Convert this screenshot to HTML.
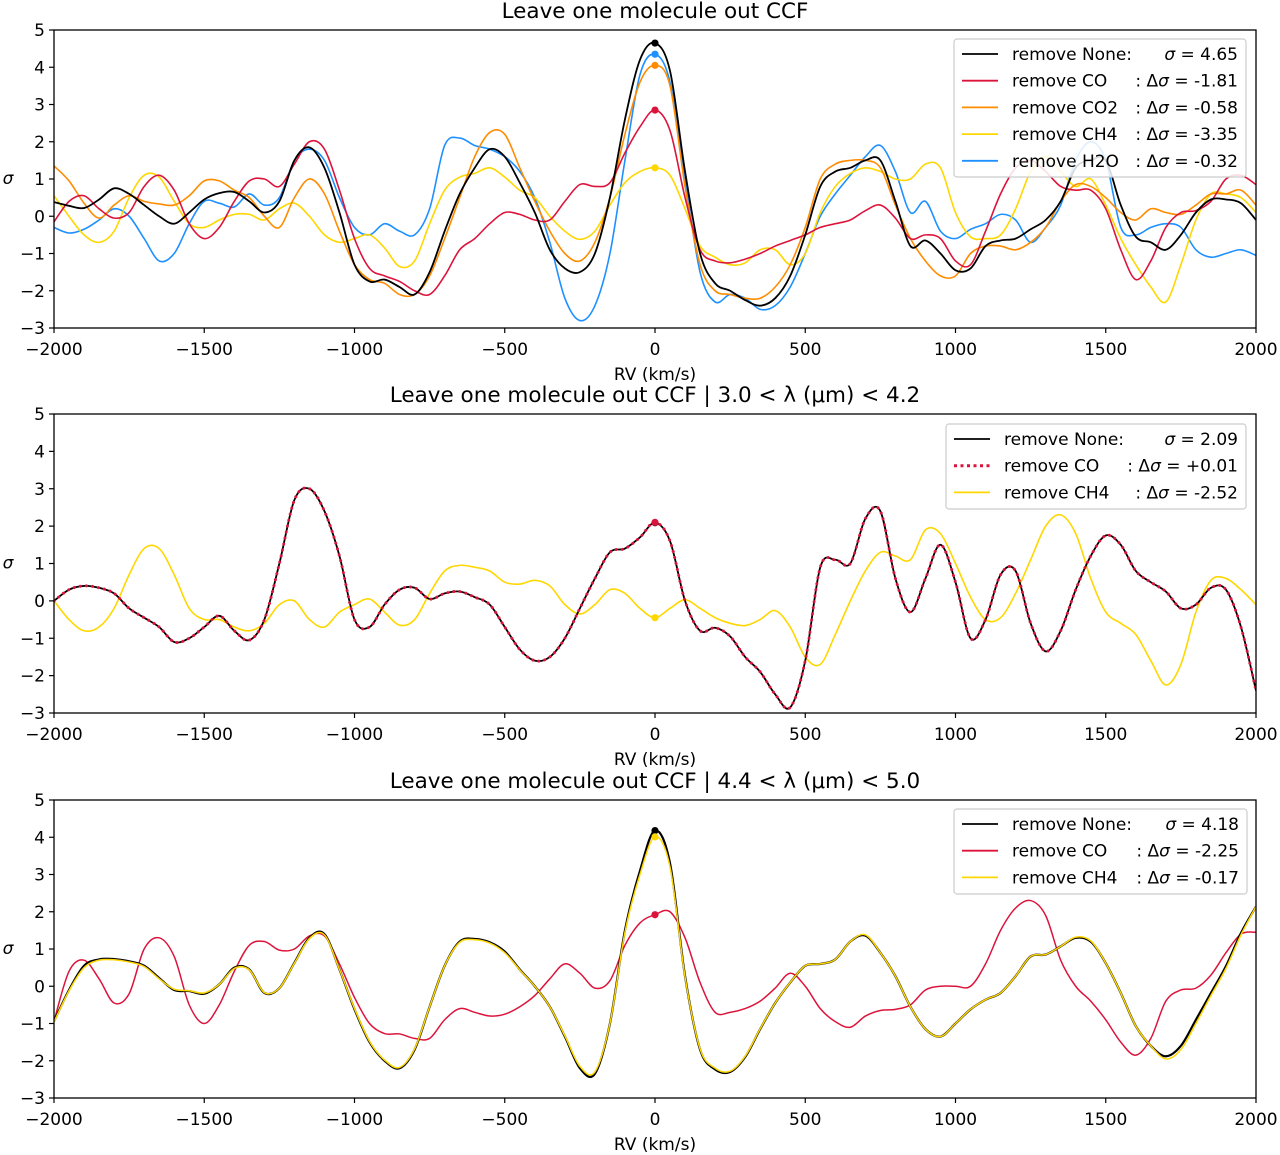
<!DOCTYPE html>
<html><head><meta charset="utf-8"><style>
html,body{margin:0;padding:0;background:#fff;}
svg{display:block;font-family:"DejaVu Sans","Liberation Sans",sans-serif;}
</style></head><body>
<svg id="chart" width="1280" height="1155" viewBox="0 0 1280 1155" xmlns="http://www.w3.org/2000/svg"></svg>
<script>
const rv = [-2000,-1950,-1900,-1850,-1800,-1750,-1700,-1650,-1600,-1550,-1500,-1450,-1400,-1350,-1300,-1250,-1200,-1150,-1100,-1050,-1000,-950,-900,-850,-800,-750,-700,-650,-600,-550,-500,-450,-400,-350,-300,-250,-200,-150,-100,-50,0,50,100,150,200,250,300,350,400,450,500,550,600,650,700,750,800,850,900,950,1000,1050,1100,1150,1200,1250,1300,1350,1400,1450,1500,1550,1600,1650,1700,1750,1800,1850,1900,1950,2000];
const xTicks = [-2000,-1500,-1000,-500,0,500,1000,1500,2000];
const yTicks = [-3,-2,-1,0,1,2,3,4,5];

// Panel 1
const p1None = [0.38,0.28,0.22,0.45,0.75,0.6,0.3,0.0,-0.2,0.1,0.45,0.62,0.65,0.4,0.1,0.4,1.5,1.85,1.3,0.1,-1.3,-1.75,-1.7,-1.9,-2.1,-1.5,-0.4,0.6,1.3,1.8,1.6,0.9,0.1,-0.9,-1.4,-1.5,-1.0,0.5,2.6,4.2,4.65,
 3.9,1.2,-1.0,-1.8,-2.0,-2.25,-2.4,-2.2,-1.6,-0.5,0.8,1.2,1.3,1.5,1.5,0.4,-0.8,-0.65,-1.0,-1.45,-1.4,-0.8,-0.65,-0.6,-0.35,-0.1,0.4,1.3,1.5,1.5,0.3,-0.55,-0.7,-0.9,-0.5,0.1,0.45,0.45,0.35,-0.1];
const p1CO = [-0.15,0.4,0.55,0.2,-0.05,0.1,0.8,1.1,0.7,-0.2,-0.6,-0.3,0.4,0.95,1.0,0.8,1.4,2.0,1.8,0.7,-0.6,-1.4,-1.6,-1.75,-2.0,-2.1,-1.6,-0.9,-0.6,-0.2,0.1,0.05,-0.1,-0.1,0.4,0.85,0.8,0.9,1.7,2.4,2.85,
 2.3,0.5,-0.9,-1.2,-1.25,-1.15,-1.0,-0.8,-0.65,-0.5,-0.3,-0.2,-0.1,0.15,0.3,-0.05,-0.6,-0.5,-0.6,-1.2,-1.3,-0.4,0.6,1.3,1.5,1.2,0.8,0.7,0.7,0.2,-0.9,-1.7,-1.2,-0.3,0.1,0.15,0.4,1.0,1.1,0.85];
const p1CO2 = [1.35,0.95,0.35,-0.05,0.3,0.55,0.4,0.33,0.3,0.55,0.95,0.95,0.7,0.5,0.0,-0.3,0.5,1.0,0.6,-0.4,-1.3,-1.7,-1.8,-2.1,-2.1,-1.6,-0.6,0.5,1.6,2.25,2.2,1.3,0.4,-0.4,-1.0,-1.2,-0.7,0.5,2.2,3.6,4.05,
 3.5,0.8,-1.3,-2.0,-2.1,-2.2,-2.2,-1.9,-1.3,-0.3,1.0,1.4,1.5,1.5,1.3,0.3,-0.6,-1.2,-1.6,-1.6,-1.0,-0.8,-0.8,-0.9,-0.7,-0.3,0.4,0.85,0.8,0.5,0.1,-0.1,0.2,0.1,0.05,0.3,0.6,0.6,0.7,0.3];
const p1CH4 = [0.55,0.0,-0.5,-0.7,-0.4,0.5,1.1,1.05,0.4,-0.2,-0.3,-0.1,0.05,0.05,-0.1,0.2,0.35,0.0,-0.5,-0.7,-0.6,-0.5,-0.85,-1.35,-1.2,-0.2,0.7,1.05,1.15,1.3,1.05,0.7,0.5,0.0,-0.4,-0.62,-0.4,0.3,0.9,1.2,1.3,
 1.1,0.2,-0.8,-1.1,-1.3,-1.25,-0.9,-0.9,-1.3,-1.0,0.1,0.8,1.15,1.3,1.2,1.0,1.0,1.4,1.3,0.1,-0.55,-0.6,-0.5,0.2,1.2,1.6,1.2,0.8,1.0,0.3,-0.6,-1.3,-1.9,-2.3,-1.3,-0.1,0.6,0.6,0.5,0.1];
const p1H2O = [-0.3,-0.45,-0.35,-0.1,0.2,0.0,-0.6,-1.2,-1.0,-0.2,0.4,0.35,0.25,0.6,0.3,0.5,1.5,1.8,1.5,0.5,-0.3,-0.5,-0.2,-0.4,-0.5,0.2,1.9,2.1,1.9,1.8,1.6,1.2,0.5,-0.7,-2.2,-2.8,-2.4,-1.0,1.5,3.8,4.35,
 3.6,1.0,-1.5,-2.3,-2.1,-2.2,-2.5,-2.4,-1.9,-1.0,0.0,0.6,1.1,1.6,1.9,1.2,0.1,0.4,-0.4,-0.6,-0.35,-0.2,0.05,-0.1,-0.7,-0.3,0.3,1.5,2.0,1.5,-0.3,-0.5,-0.3,-0.2,-0.3,-0.9,-1.1,-1.0,-0.9,-1.05];

// Panel 2
const p2None = [0.0,0.3,0.4,0.35,0.2,-0.2,-0.45,-0.7,-1.1,-1.0,-0.7,-0.4,-0.8,-1.05,-0.5,1.0,2.7,3.0,2.4,1.2,-0.5,-0.7,-0.1,0.3,0.35,0.05,0.2,0.25,0.1,-0.1,-0.7,-1.3,-1.6,-1.5,-1.0,-0.2,0.6,1.3,1.4,1.7,2.09,
 1.6,0.0,-0.8,-0.72,-0.95,-1.5,-1.9,-2.5,-2.85,-1.6,0.9,1.1,1.0,2.2,2.4,0.6,-0.3,0.6,1.5,0.5,-1.0,-0.5,0.7,0.8,-0.6,-1.35,-0.8,0.3,1.2,1.75,1.5,0.8,0.5,0.25,-0.2,-0.1,0.35,0.3,-0.7,-2.4];
const p2CO = [0.0,0.3,0.4,0.35,0.2,-0.2,-0.45,-0.7,-1.1,-1.0,-0.7,-0.4,-0.8,-1.05,-0.5,1.0,2.7,3.0,2.4,1.2,-0.5,-0.7,-0.1,0.3,0.35,0.05,0.2,0.25,0.1,-0.1,-0.7,-1.3,-1.6,-1.5,-1.0,-0.2,0.6,1.3,1.4,1.7,2.1,
 1.6,0.0,-0.8,-0.72,-0.95,-1.5,-1.9,-2.5,-2.85,-1.6,0.9,1.1,1.0,2.2,2.4,0.6,-0.3,0.6,1.5,0.5,-1.0,-0.5,0.7,0.8,-0.6,-1.35,-0.8,0.3,1.2,1.75,1.5,0.8,0.5,0.25,-0.2,-0.1,0.35,0.3,-0.7,-2.4];
const p2CH4 = [0.0,-0.5,-0.8,-0.7,-0.2,0.7,1.4,1.4,0.7,-0.2,-0.5,-0.5,-0.7,-0.8,-0.6,-0.1,0.0,-0.5,-0.7,-0.3,-0.1,0.05,-0.3,-0.65,-0.5,0.2,0.8,0.95,0.9,0.8,0.5,0.45,0.55,0.4,-0.1,-0.35,-0.1,0.3,0.2,-0.2,-0.45,
 -0.2,0.03,-0.2,-0.45,-0.6,-0.66,-0.5,-0.26,-0.7,-1.5,-1.7,-0.9,0.0,0.8,1.3,1.2,1.1,1.9,1.8,1.0,0.1,-0.5,-0.45,0.2,1.1,2.0,2.3,1.8,0.6,-0.3,-0.6,-0.9,-1.6,-2.25,-1.7,-0.3,0.55,0.6,0.3,-0.1];

// Panel 3
const p3None = [-0.94,-0.1,0.55,0.72,0.73,0.67,0.55,0.22,-0.1,-0.13,-0.2,0.05,0.5,0.45,-0.18,-0.05,0.63,1.3,1.4,0.45,-0.62,-1.5,-2.0,-2.2,-1.7,-0.55,0.55,1.2,1.27,1.18,0.93,0.45,0.0,-0.55,-1.35,-2.2,-2.35,-1.0,1.5,3.1,4.18,
 3.3,0.27,-1.7,-2.23,-2.3,-1.9,-1.15,-0.45,0.1,0.55,0.6,0.72,1.2,1.36,0.9,0.27,-0.55,-1.15,-1.35,-1.0,-0.62,-0.36,-0.18,0.27,0.8,0.85,1.07,1.3,1.2,0.62,-0.18,-1.07,-1.6,-1.88,-1.6,-0.9,-0.18,0.54,1.43,2.14];
const p3CO = [-0.94,0.4,0.7,0.2,-0.45,-0.2,1.0,1.3,0.8,-0.5,-1.0,-0.5,0.4,1.1,1.2,0.97,1.0,1.35,1.35,0.6,-0.3,-1.0,-1.27,-1.28,-1.4,-1.4,-0.9,-0.6,-0.7,-0.8,-0.75,-0.55,-0.25,0.2,0.6,0.35,-0.05,0.15,1.1,1.7,1.92,
 2.0,1.3,0.1,-0.7,-0.7,-0.6,-0.4,-0.05,0.35,0.0,-0.6,-0.95,-1.1,-0.8,-0.65,-0.62,-0.5,-0.1,0.0,0.0,0.0,0.6,1.5,2.1,2.3,1.9,0.7,0.0,-0.4,-0.9,-1.5,-1.85,-1.4,-0.4,-0.1,-0.05,0.3,0.9,1.4,1.45];
const p3CH4 = [-0.96,-0.12,0.5,0.7,0.71,0.65,0.53,0.2,-0.08,-0.12,-0.18,0.05,0.48,0.44,-0.17,-0.05,0.62,1.28,1.38,0.45,-0.6,-1.48,-1.98,-2.18,-1.68,-0.55,0.55,1.18,1.25,1.16,0.9,0.44,0.0,-0.55,-1.33,-2.15,-2.3,-1.0,1.45,3.0,4.01,
 3.2,0.25,-1.68,-2.2,-2.28,-1.88,-1.14,-0.45,0.1,0.55,0.6,0.72,1.2,1.38,0.9,0.27,-0.55,-1.15,-1.35,-1.0,-0.62,-0.36,-0.18,0.27,0.8,0.85,1.07,1.32,1.22,0.62,-0.18,-1.07,-1.6,-1.95,-1.7,-1.0,-0.25,0.48,1.38,2.14];

const C = {black:'#000000', red:'#dc143c', orange:'#ff8c00', yellow:'#ffd700', blue:'#1e90ff'};
const NS = 'http://www.w3.org/2000/svg';
const svg = document.getElementById('chart');
const X0 = 54, X1 = 1256;
function xs(v){ return X0 + (v + 2000) / 4000 * (X1 - X0); }

function mk(tag, attrs, parent){
  const e = document.createElementNS(NS, tag);
  for (const k in attrs) e.setAttribute(k, attrs[k]);
  (parent || svg).appendChild(e);
  return e;
}
function smoothPath(pts){
  let d = 'M' + pts[0][0].toFixed(2) + ',' + pts[0][1].toFixed(2);
  for (let i = 0; i < pts.length - 1; i++){
    const p0 = pts[i-1] || pts[i], p1 = pts[i], p2 = pts[i+1], p3 = pts[i+2] || p2;
    const c1x = p1[0] + (p2[0]-p0[0])/6, c1y = p1[1] + (p2[1]-p0[1])/6;
    const c2x = p2[0] - (p3[0]-p1[0])/6, c2y = p2[1] - (p3[1]-p1[1])/6;
    d += 'C' + c1x.toFixed(2)+','+c1y.toFixed(2)+' '+c2x.toFixed(2)+','+c2y.toFixed(2)+' '+p2[0].toFixed(2)+','+p2[1].toFixed(2);
  }
  return d;
}

function panel(idx, top, bottom, title, series, legendBox, legendRows){
  const ys = v => bottom - (v + 3) / 8 * (bottom - top);
  const g = mk('g', {});
  
  
  const clipId = 'clip' + idx;
  const cp = mk('clipPath', {id: clipId}, g);
  mk('rect', {x: X0, y: top, width: X1 - X0, height: bottom - top}, cp);
  const t = mk('text', {x: 655, y: top - 12, 'text-anchor': 'middle', 'font-size': 21.5, fill: '#000'}, g);
  t.textContent = title;
  
  
  const lines = mk('g', {'clip-path': 'url(#' + clipId + ')'}, g);
  
  
  series.forEach(s => {
    const pts = rv.map((r, i) => [xs(r), ys(s.values[i])]);
    const p = mk('path', {d: smoothPath(pts), fill: 'none', stroke: s.color, 'stroke-width': s.width || 1.6, 'stroke-linejoin': 'round'}, lines);
    if (s.dash) { p.setAttribute('stroke-dasharray', s.dash); p.setAttribute('stroke-linecap', 'round'); }
    
    
  });
  series.forEach(s => {
    const i0 = rv.indexOf(0);
    const c = mk('circle', {cx: xs(0), cy: ys(s.values[i0]), r: 3.6, fill: s.color}, g);
    
    
  });
  const fr = mk('rect', {x: X0, y: top, width: X1 - X0, height: bottom - top, fill: 'none', stroke: '#000', 'stroke-width': 1.3}, g);
  
  
  xTicks.forEach(v => {
    mk('line', {x1: xs(v), x2: xs(v), y1: bottom, y2: bottom + 5, stroke: '#000', 'stroke-width': 1.2}, g);
    const tl = mk('text', {x: xs(v), y: bottom + 27, 'text-anchor': 'middle', 'font-size': 17, fill: '#000'}, g);
    tl.textContent = v < 0 ? '\u2212' + Math.abs(v) : String(v);
    
    
  });
  yTicks.forEach(v => {
    mk('line', {x1: X0 - 5, x2: X0, y1: ys(v), y2: ys(v), stroke: '#000', 'stroke-width': 1.2}, g);
    const tl = mk('text', {x: X0 - 9, y: ys(v) + 6, 'text-anchor': 'end', 'font-size': 17, fill: '#000'}, g);
    tl.textContent = v < 0 ? '\u2212' + Math.abs(v) : String(v);
    
    
  });
  const xl = mk('text', {x: 655, y: bottom + 52, 'text-anchor': 'middle', 'font-size': 17, fill: '#000'}, g);
  xl.textContent = 'RV (km/s)';
  
  
  const yl = mk('text', {x: 8, y: (top + bottom) / 2 + 5, 'text-anchor': 'middle', 'font-size': 17, 'font-style': 'italic', fill: '#000'}, g);
  yl.textContent = '\u03c3';
  
  
  const lg = mk('g', {}, g);
  
  
  mk('rect', {x: legendBox[0], y: legendBox[1], width: legendBox[2], height: legendBox[3], rx: 3, fill: 'rgba(255,255,255,0.85)', stroke: '#cccccc', 'stroke-width': 1.2}, lg);
  legendRows.forEach((row, i) => {
    const y = legendBox[1] + 15 + i * 26.7;
    const e = mk('g', {}, lg);
    
    
    const ln = mk('line', {x1: legendBox[0] + 8, x2: legendBox[0] + 44, y1: y, y2: y, stroke: row.color, 'stroke-width': row.dash ? 3 : 1.8}, e);
    if (row.dash) { ln.setAttribute('stroke-dasharray', row.dash); }
    const a = mk('text', {x: legendBox[0] + 58, y: y + 6, 'font-size': 17, fill: '#000'}, e);
    a.textContent = row.name;
    const b = mk('text', {x: legendBox[0] + legendBox[2] - 8, y: y + 6, 'text-anchor': 'end', 'font-size': 17, fill: '#000', 'xml:space': 'preserve'}, e);
    b.innerHTML = row.val;
  });
}

const sig = '<tspan font-style="italic">\u03c3</tspan>';
panel(1, 30, 328, 'Leave one molecule out CCF', [
  {key:'h2o', color:C.blue, values:p1H2O},
  {key:'ch4', color:C.yellow, values:p1CH4},
  {key:'co2', color:C.orange, values:p1CO2},
  {key:'co', color:C.red, values:p1CO},
  {key:'none', color:C.black, values:p1None, width:1.8}
], [954, 39, 292, 138], [
  {key:'none', color:C.black, name:'remove None:', val: sig + ' =   4.65'},
  {key:'co', color:C.red, name:'remove CO', val:': \u0394' + sig + ' = -1.81'},
  {key:'co2', color:C.orange, name:'remove CO2', val:': \u0394' + sig + ' = -0.58'},
  {key:'ch4', color:C.yellow, name:'remove CH4', val:': \u0394' + sig + ' = -3.35'},
  {key:'h2o', color:C.blue, name:'remove H2O', val:': \u0394' + sig + ' = -0.32'}
]);
panel(2, 414, 713, 'Leave one molecule out CCF | 3.0 < \u03bb (\u03bcm) < 4.2', [
  {key:'ch4', color:C.yellow, values:p2CH4},
  {key:'none', color:C.black, values:p2None, width:1.8},
  {key:'co', color:C.red, values:p2CO, width:3, dash:'0.1 6'}
], [946, 424, 300, 85], [
  {key:'none', color:C.black, name:'remove None:', val: sig + ' =   2.09'},
  {key:'co', color:C.red, name:'remove CO', val:': \u0394' + sig + ' = +0.01', dash:'3 3.5'},
  {key:'ch4', color:C.yellow, name:'remove CH4', val:': \u0394' + sig + ' = -2.52'}
]);
panel(3, 800, 1098, 'Leave one molecule out CCF | 4.4 < \u03bb (\u03bcm) < 5.0', [
  {key:'co', color:C.red, values:p3CO, width:1.5},
  {key:'none', color:C.black, values:p3None, width:2.2},
  {key:'ch4', color:C.yellow, values:p3CH4, width:1.5}
], [954, 809, 293, 85], [
  {key:'none', color:C.black, name:'remove None:', val: sig + ' =   4.18'},
  {key:'co', color:C.red, name:'remove CO', val:': \u0394' + sig + ' = -2.25'},
  {key:'ch4', color:C.yellow, name:'remove CH4', val:': \u0394' + sig + ' = -0.17'}
]);
</script>
</body></html>
